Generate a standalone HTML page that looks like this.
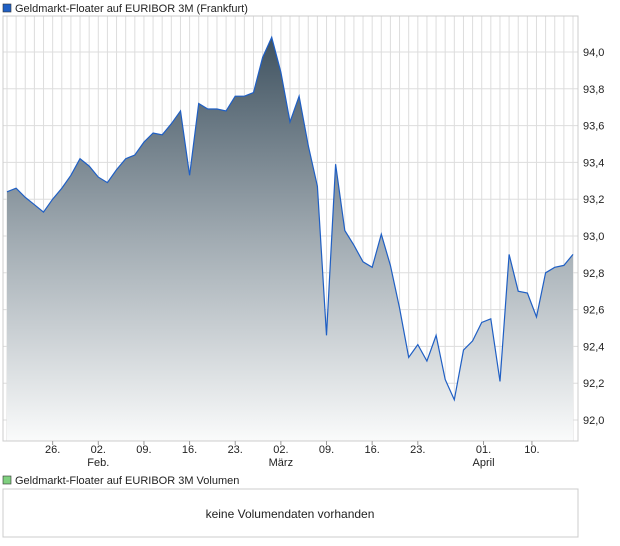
<!DOCTYPE html>
<html><head><meta charset="utf-8"><style>
body{margin:0;background:#fff;width:620px;height:546px;overflow:hidden;font-family:"Liberation Sans",sans-serif;}
svg{display:block}
</style></head><body>
<svg width="620" height="546" id="svg" font-family="Liberation Sans, sans-serif">
<defs><linearGradient id="g" x1="0" y1="0" x2="0" y2="1"><stop offset="0" stop-color="#3f5260"/><stop offset="0.5" stop-color="#a1abb2"/><stop offset="1" stop-color="#fafbfb"/></linearGradient></defs>
<rect x="3" y="4" width="8" height="8" fill="#1f5fc4" stroke="#333" stroke-width="0.6"/>
<text x="15" y="12" font-size="11" fill="#222">Geldmarkt-Floater auf EURIBOR 3M (Frankfurt)</text>
<g id="grid"></g>
<path id="area" fill="url(#g)"/>
<path id="line" fill="none" stroke="#1f5fc4" stroke-width="1.2"/>
<rect x="3" y="16" width="575" height="425" fill="none" stroke="#ccc"/>
<g id="axes"></g>
<rect x="3" y="476" width="8" height="8" fill="#7fd07f" stroke="#333" stroke-width="0.6"/>
<text x="15" y="484" font-size="11" fill="#222">Geldmarkt-Floater auf EURIBOR 3M Volumen</text>
<rect x="3" y="489" width="575" height="48" fill="#fff" stroke="#ccc"/>
<text x="290" y="518" font-size="12" fill="#222" text-anchor="middle">keine Volumendaten vorhanden</text>
</svg>
<script>
const values=[93.24,93.26,93.21,93.17,93.13,93.20,93.26,93.33,93.42,93.38,93.32,93.29,93.36,93.42,93.44,93.51,93.56,93.55,93.61,93.68,93.33,93.72,93.69,93.69,93.68,93.76,93.76,93.78,93.97,94.08,93.89,93.62,93.76,93.49,93.27,92.46,93.39,93.03,92.95,92.86,92.83,93.01,92.84,92.61,92.34,92.41,92.32,92.46,92.22,92.11,92.38,92.43,92.53,92.55,92.21,92.90,92.70,92.69,92.56,92.80,92.83,92.84,92.90];
const yTicks=[92.0,92.2,92.4,92.6,92.8,93.0,93.2,93.4,93.6,93.8,94.0];
const xTickLabels=["26.","02.","09.","16.","23.","02.","09.","16.","23.","01.","10."];
const xTickIdx=[5,10,15,20,25,30,35,40,45,52.2,57.5];
const monthLabels=["Feb.","März","April"];
const monthIdx=[10,30,52.2];
const NS="http://www.w3.org/2000/svg";
const x0=7,step=(573-7)/62;
const X=i=>x0+i*step;
const Y=v=>52+(94-v)*184;
const grid=document.getElementById('grid'),axes=document.getElementById('axes');
function mk(tag,attrs,parent){const e=document.createElementNS(NS,tag);for(const k in attrs)e.setAttribute(k,attrs[k]);parent.appendChild(e);return e;}
for(let x=X(0);x<578;x+=step){const l=mk('line',{x1:x,x2:x,y1:16,y2:441,stroke:'#ddd'},grid);

}
yTicks.forEach(v=>{const y=Y(v);
const l=mk('line',{x1:3,x2:578,y1:y,y2:y,stroke:'#ddd'},grid);


const t=mk('text',{x:583,y:y+4,'font-size':11,fill:'#222'},axes);t.textContent=v.toFixed(1).replace('.',',');

});
xTickLabels.forEach((s,k)=>{const x=X(xTickIdx[k]);
const m=mk('line',{x1:x,x2:x,y1:441,y2:445,stroke:'#999'},axes);


const t=mk('text',{x:x,y:453,'font-size':11,fill:'#222','text-anchor':'middle'},axes);t.textContent=s;

});
monthLabels.forEach((s,k)=>{const t=mk('text',{x:X(monthIdx[k]),y:466,'font-size':11,fill:'#222','text-anchor':'middle'},axes);t.textContent=s;

});
let d=values.map((v,i)=>(i?'L':'M')+X(i).toFixed(1)+','+Y(v).toFixed(1)).join('');
document.getElementById('line').setAttribute('d',d);
document.getElementById('area').setAttribute('d',d+'L'+X(values.length-1).toFixed(1)+',441L'+X(0)+',441Z');
</script>
</body></html>
